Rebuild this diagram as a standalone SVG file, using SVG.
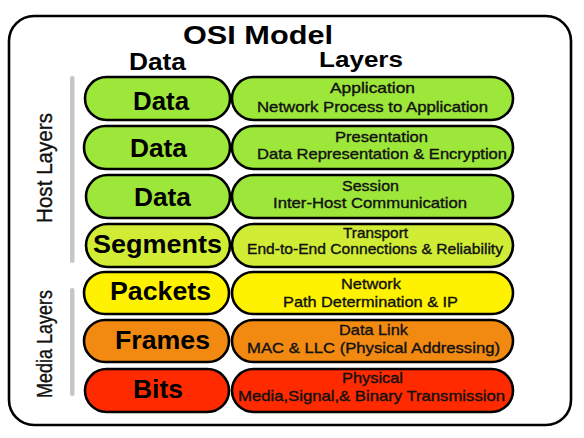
<svg xmlns="http://www.w3.org/2000/svg" width="584" height="438" viewBox="0 0 584 438">
<style>
.pill{stroke:#000;stroke-width:2.6}
.g{fill:#9de63a}.yg{fill:#d0ec35}.y{fill:#fff200}.o{fill:#f28a12}.r{fill:#ff2a00}
.big{font-family:"Liberation Sans",Arial,sans-serif;font-weight:bold;font-size:25px;fill:#000;text-anchor:middle}
.sm{font-family:"Liberation Sans",Arial,sans-serif;font-size:14.5px;fill:#111;stroke:#111;stroke-width:0.35;text-anchor:middle}
.side{font-family:"Liberation Sans",Arial,sans-serif;font-size:18px;fill:#111;stroke:#111;stroke-width:0.3;text-anchor:middle}
.bar{fill:#c6c6c6}
</style>
<rect x="0" y="0" width="584" height="438" fill="#fff"/>
<rect id="frame" x="9" y="16" width="562" height="409" rx="25" fill="#fff" stroke="#000" stroke-width="2.6"/>
<text id="title" x="258" y="44" class="big" style="font-size:26px" textLength="150" lengthAdjust="spacingAndGlyphs">OSI Model</text>
<text id="hdr-data" x="157.5" y="70" class="big" style="font-size:23px" textLength="57" lengthAdjust="spacingAndGlyphs">Data</text>
<text id="hdr-layers" x="361" y="67" class="big" style="font-size:22px" textLength="84" lengthAdjust="spacingAndGlyphs">Layers</text>
<g id="connectors">
<rect class="bar" x="70" y="76" width="4.5" height="187" rx="2"/>
<rect class="bar" x="70" y="288" width="4.5" height="108" rx="2"/>
</g>
<text id="host-layers" class="side" transform="translate(52,168) scale(1.2,1) rotate(-90)" textLength="110" lengthAdjust="spacingAndGlyphs">Host Layers</text>
<text id="media-layers" class="side" transform="translate(52,344) scale(1.2,1) rotate(-90)" textLength="108" lengthAdjust="spacingAndGlyphs">Media Layers</text>
<g id="application">
<rect class="pill g" x="85" y="77" width="145" height="43" rx="21.5"/>
<rect class="pill g" x="232" y="77" width="281" height="43" rx="21.5"/>
<text class="big" x="161" y="110" textLength="56" lengthAdjust="spacingAndGlyphs">Data</text>
<text class="sm" x="372.5" y="93" textLength="85" lengthAdjust="spacingAndGlyphs">Application</text>
<text class="sm" x="372.5" y="112" textLength="231" lengthAdjust="spacingAndGlyphs">Network Process to Application</text>
</g>
<g id="presentation">
<rect class="pill g" x="84" y="126" width="146" height="43" rx="21.5"/>
<rect class="pill g" x="232" y="126" width="281" height="43" rx="21.5"/>
<text class="big" x="158.5" y="157" textLength="57" lengthAdjust="spacingAndGlyphs">Data</text>
<text class="sm" x="381.5" y="142" textLength="93" lengthAdjust="spacingAndGlyphs">Presentation</text>
<text class="sm" x="382" y="159" textLength="250" lengthAdjust="spacingAndGlyphs">Data Representation &amp; Encryption</text>
</g>
<g id="session">
<rect class="pill g" x="86" y="175" width="144" height="43" rx="21.5"/>
<rect class="pill g" x="232" y="175" width="281" height="43" rx="21.5"/>
<text class="big" x="162.5" y="206" textLength="57" lengthAdjust="spacingAndGlyphs">Data</text>
<text class="sm" x="370.5" y="191" textLength="57" lengthAdjust="spacingAndGlyphs">Session</text>
<text class="sm" x="370" y="208" textLength="194" lengthAdjust="spacingAndGlyphs">Inter-Host Communication</text>
</g>
<g id="transport">
<rect class="pill yg" x="86" y="224" width="144" height="43" rx="21.5"/>
<rect class="pill yg" x="232" y="224" width="281" height="43" rx="21.5"/>
<text class="big" x="157.5" y="253" textLength="129" lengthAdjust="spacingAndGlyphs">Segments</text>
<text class="sm" x="375.5" y="238" textLength="65" lengthAdjust="spacingAndGlyphs">Transport</text>
<text class="sm" x="375" y="254" textLength="256" lengthAdjust="spacingAndGlyphs">End-to-End Connections &amp; Reliability</text>
</g>
<g id="network">
<rect class="pill y" x="84" y="272" width="145" height="42" rx="21"/>
<rect class="pill y" x="232" y="272" width="281" height="42" rx="21"/>
<text class="big" x="160.5" y="300" textLength="101" lengthAdjust="spacingAndGlyphs">Packets</text>
<text class="sm" x="371" y="289" textLength="60" lengthAdjust="spacingAndGlyphs">Network</text>
<text class="sm" x="370.5" y="307" textLength="175" lengthAdjust="spacingAndGlyphs">Path Determination &amp; IP</text>
</g>
<g id="datalink">
<rect class="pill o" x="84" y="320" width="145" height="42" rx="21"/>
<rect class="pill o" x="232" y="320" width="281" height="42" rx="21"/>
<text class="big" x="162.5" y="349" textLength="95" lengthAdjust="spacingAndGlyphs">Frames</text>
<text class="sm" x="373.5" y="335" textLength="69" lengthAdjust="spacingAndGlyphs">Data Link</text>
<text class="sm" x="373.5" y="353" textLength="253" lengthAdjust="spacingAndGlyphs">MAC &amp; LLC (Physical Addressing)</text>
</g>
<g id="physical">
<rect class="pill r" x="85" y="369" width="144" height="43" rx="21.5"/>
<rect class="pill r" x="232" y="369" width="281" height="43" rx="21.5"/>
<text class="big" x="158" y="398" textLength="50" lengthAdjust="spacingAndGlyphs">Bits</text>
<text class="sm" x="372.5" y="383" textLength="61" lengthAdjust="spacingAndGlyphs">Physical</text>
<text class="sm" x="371.5" y="401" textLength="267" lengthAdjust="spacingAndGlyphs">Media,Signal,&amp; Binary Transmission</text>
</g>
</svg>
